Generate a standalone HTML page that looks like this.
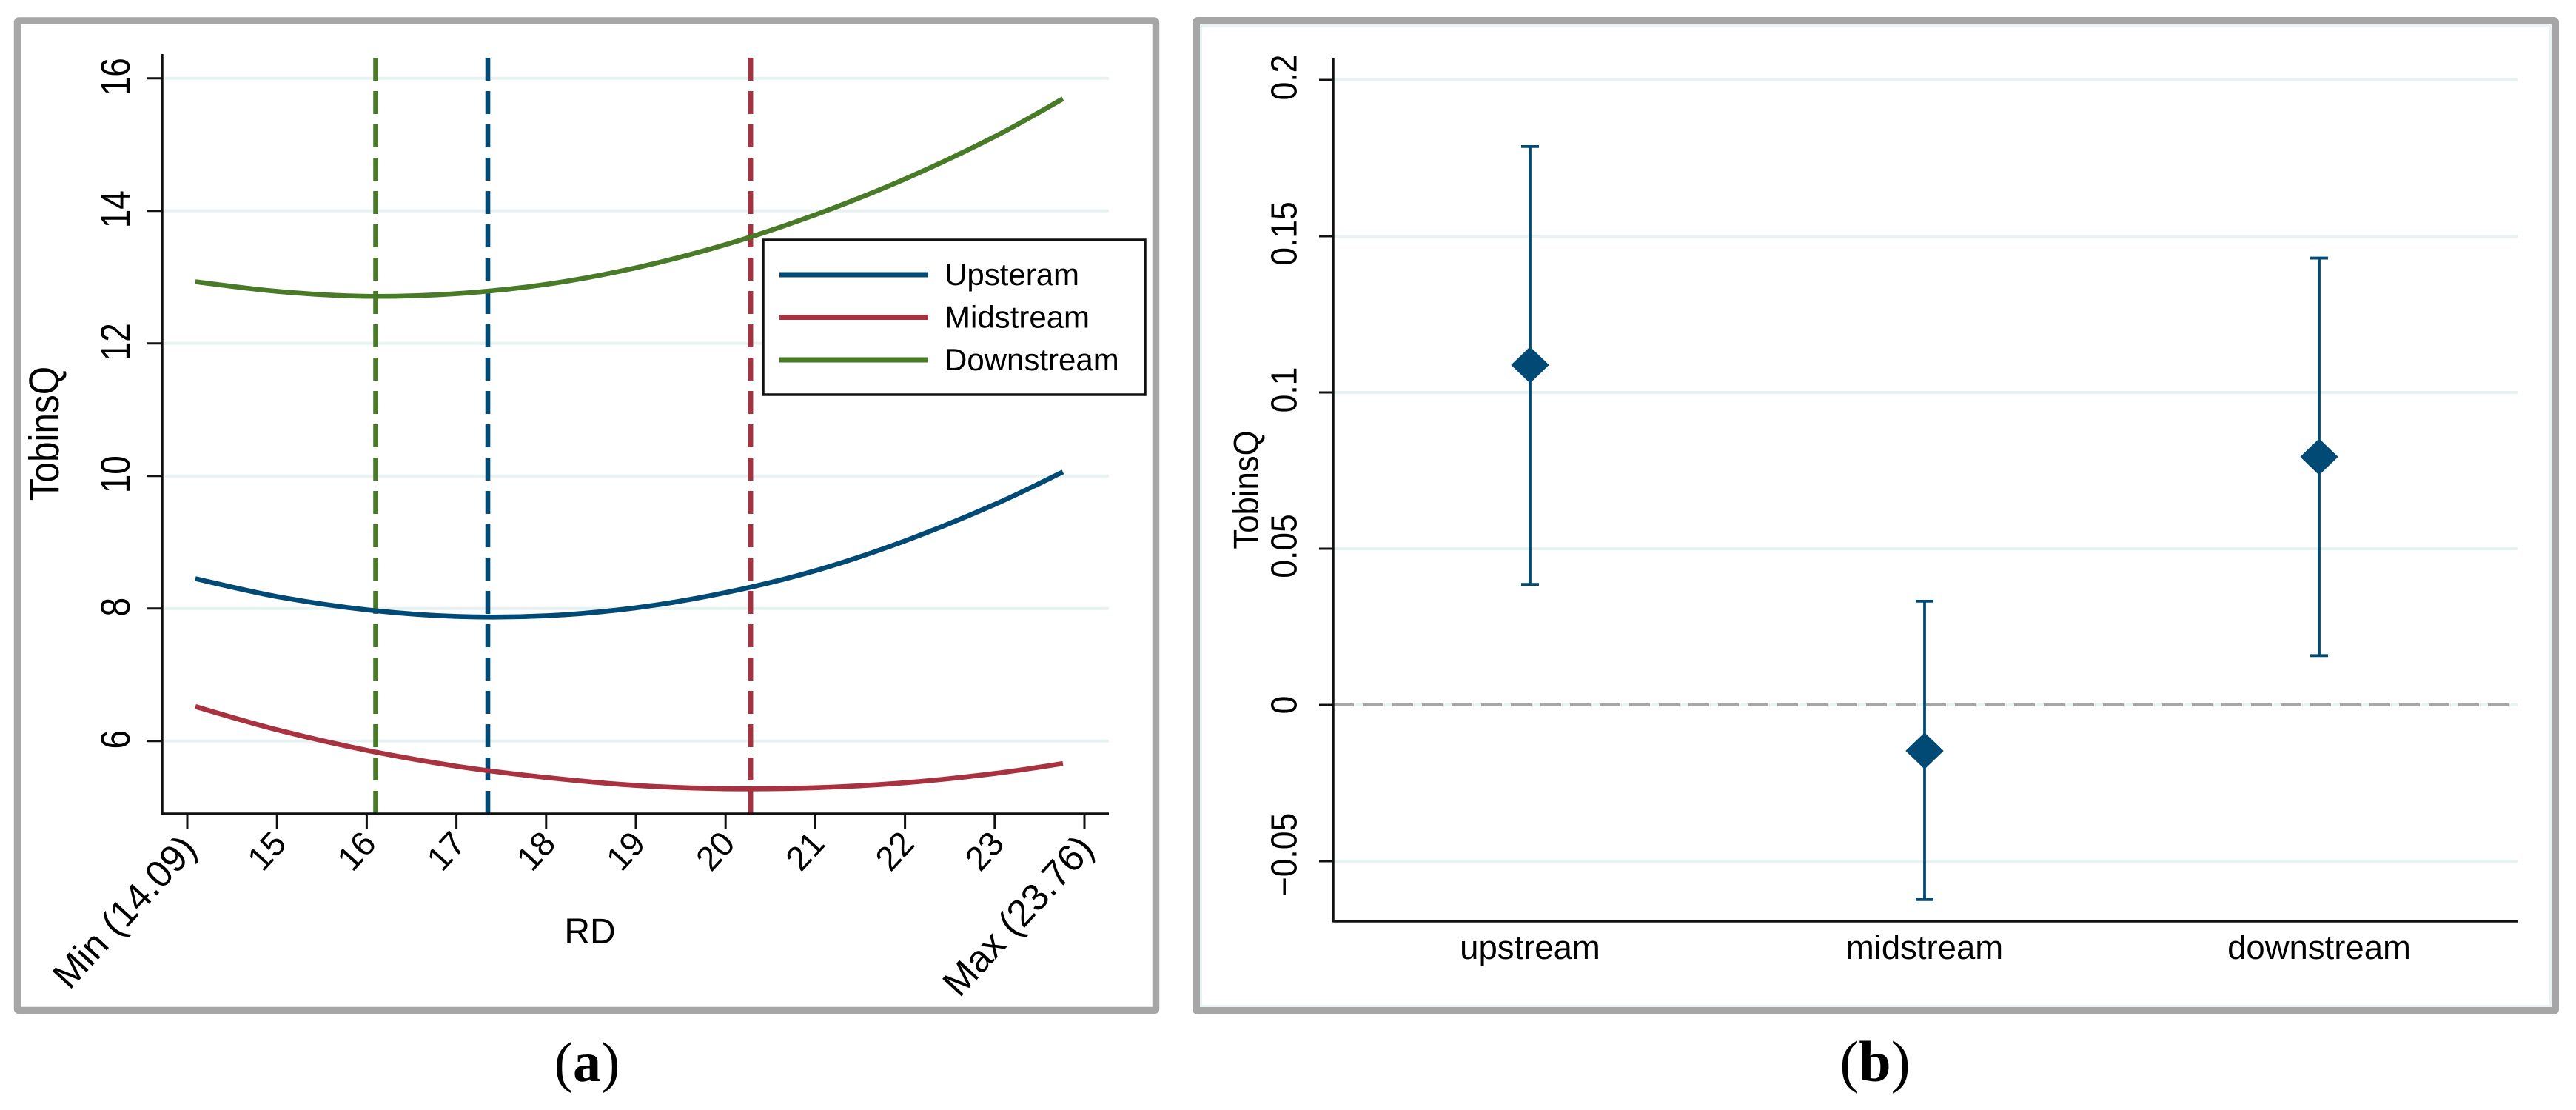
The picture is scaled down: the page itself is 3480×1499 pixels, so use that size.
<!DOCTYPE html>
<html lang="en">
<head>
<meta charset="utf-8">
<title>TobinsQ and RD by supply-chain position</title>
<style>
html,body{margin:0;padding:0;background:#fff;width:3480px;height:1499px;overflow:hidden}
svg{display:block}
text{font-family:"Liberation Sans",sans-serif;fill:#000}
.cap{font-family:"Liberation Serif",serif}
</style>
</head>
<body>
<svg id="fig" xmlns="http://www.w3.org/2000/svg" width="3480" height="1499" viewBox="0 0 3480 1499">
  <rect x="0" y="0" width="3480" height="1499" fill="#fff"/>
  <rect x="23.5" y="28" width="1538" height="1336.5" rx="2" fill="#fff" stroke="#a6a6a6" stroke-width="9.5"/>
  <rect x="1616" y="28" width="1836" height="1337" rx="2" fill="#fff" stroke="#a6a6a6" stroke-width="10"/>
  <rect x="1622.5" y="34.5" width="1823" height="1324" fill="none" stroke="#eaf3f4" stroke-width="3"/>
  <g id="panelA"></g>
  <g id="panelB"></g>
  <text class="cap" x="793" y="1460" font-size="76" text-anchor="middle">(<tspan font-weight="bold">a</tspan>)</text>
  <text class="cap" x="2533" y="1460" font-size="78" text-anchor="middle">(<tspan font-weight="bold">b</tspan>)</text>
</svg>
<script>
// Panel (a) data
const rdPositions = [14.09, 15, 16, 17, 18, 19, 20, 21, 22, 23, 23.76];
const upstreamValues = [8.45, 8.18, 7.98, 7.88, 7.89, 8.01, 8.24, 8.57, 9.02, 9.57, 10.06];
const midstreamValues = [6.52, 6.17, 5.86, 5.62, 5.45, 5.33, 5.28, 5.295, 5.37, 5.51, 5.66];
const downstreamValues = [12.93, 12.785, 12.71, 12.75, 12.89, 13.14, 13.49, 13.94, 14.48, 15.12, 15.69];
const turningPoints = [17.35, 20.28, 16.1];
const seriesNames = ['Upsteram', 'Midstream', 'Downstream'];
const yTicksA = [6, 8, 10, 12, 14, 16];
const xTickValuesA = [14, 15, 16, 17, 18, 19, 20, 21, 22, 23, 24];
const xTickLabelsA = ['Min (14.09)', '15', '16', '17', '18', '19', '20', '21', '22', '23', 'Max (23.76)'];

// Panel (b) data
const categoriesB = ['upstream', 'midstream', 'downstream'];
const coefValues = [0.1088, -0.0147, 0.0794];
const ciUpper = [0.1787, 0.0332, 0.143];
const ciLower = [0.0386, -0.0623, 0.0158];
const yTicksB = [-0.05, 0, 0.05, 0.1, 0.15, 0.2];
const yTickLabelsB = ['\u22120.05', '0', '0.05', '0.1', '0.15', '0.2'];

const NS = 'http://www.w3.org/2000/svg';
const BLUE = '#014a75', RED = '#a83240', GREEN = '#487a28', GRID = '#e9f2f3', AXIS = '#111';
const seriesColors = [BLUE, RED, GREEN];

function node(parent, tag, attrs, txt) {
  const n = document.createElementNS(NS, tag);
  for (const k in attrs) n.setAttribute(k, attrs[k]);
  if (txt !== undefined) n.textContent = txt;
  parent.appendChild(n);
  return n;
}
function smoothPath(pts) {
  let d = 'M' + pts[0][0] + ' ' + pts[0][1];
  for (let i = 0; i < pts.length - 1; i++) {
    const p0 = pts[Math.max(i - 1, 0)], p1 = pts[i], p2 = pts[i + 1], p3 = pts[Math.min(i + 2, pts.length - 1)];
    const c1x = p1[0] + (p2[0] - p0[0]) / 6, c1y = p1[1] + (p2[1] - p0[1]) / 6;
    const c2x = p2[0] - (p3[0] - p1[0]) / 6, c2y = p2[1] - (p3[1] - p1[1]) / 6;
    d += ' C' + c1x + ' ' + c1y + ' ' + c2x + ' ' + c2y + ' ' + p2[0] + ' ' + p2[1];
  }
  return d;
}

// ---------- Panel (a) ----------
const gA = document.getElementById('panelA');
const xA = v => 253 + (v - 14) * 121.2;
const yA = v => 105.7 + (16 - v) * 89.5;
const axisA = { left: 219, right: 1498, top: 73, bottom: 1099 };
let el;

yTicksA.forEach(t => {
  el = node(gA, 'line', { x1: axisA.left, x2: axisA.right, y1: yA(t), y2: yA(t), stroke: GRID, 'stroke-width': 4 });
  
  
});

turningPoints.forEach((v, i) => {
  el = node(gA, 'line', { x1: xA(v), x2: xA(v), y1: 78, y2: axisA.bottom, stroke: seriesColors[i], 'stroke-width': 6.6, 'stroke-dasharray': '31 14' });
  
  
});

[upstreamValues, midstreamValues, downstreamValues].forEach((vals, i) => {
  const pts = vals.map((v, k) => [xA(rdPositions[k]), yA(v)]);
  el = node(gA, 'path', { d: smoothPath(pts), fill: 'none', stroke: seriesColors[i], 'stroke-width': 6.6 });
  
  
});

el = node(gA, 'line', { x1: axisA.left, x2: axisA.left, y1: axisA.top, y2: axisA.bottom + 1.5, stroke: AXIS, 'stroke-width': 3.5 });


el = node(gA, 'line', { x1: axisA.left, x2: axisA.right, y1: axisA.bottom, y2: axisA.bottom, stroke: AXIS, 'stroke-width': 3.5 });



yTicksA.forEach(t => {
  el = node(gA, 'line', { x1: 198, x2: axisA.left, y1: yA(t), y2: yA(t), stroke: AXIS, 'stroke-width': 3 });
  
  
  el = node(gA, 'text', { 'font-size': 46, 'text-anchor': 'middle', transform: 'translate(175,' + (yA(t) - 2) + ') rotate(-90) scale(1,1.2)' }, String(t));
  
  
});

xTickValuesA.forEach((t, i) => {
  el = node(gA, 'line', { x1: xA(t), x2: xA(t), y1: axisA.bottom, y2: 1120, stroke: AXIS, 'stroke-width': 3 });
  
  
  const isLong = xTickLabelsA[i].length > 2;
  el = node(gA, 'text', { 'font-size': isLong ? 51 : 46, 'text-anchor': 'end', transform: 'translate(' + (xA(t) + 15) + ',' + (isLong ? 1148 : 1141) + ') rotate(-47.5)' }, xTickLabelsA[i]);
  
  
});

el = node(gA, 'text', { 'font-size': 49.5, 'text-anchor': 'middle', transform: 'translate(79,585.5) rotate(-90) scale(1,1.14)' }, 'TobinsQ');


el = node(gA, 'text', { 'font-size': 48, 'text-anchor': 'middle', x: 797, y: 1274 }, 'RD');



el = node(gA, 'rect', { x: 1031, y: 324, width: 516, height: 209, fill: '#fff', stroke: '#111', 'stroke-width': 3.5 });


seriesNames.forEach((name, i) => {
  const handleY = 371 + i * 57.5;
  const textY = 385 + i * 57.5;
  el = node(gA, 'line', { x1: 1053, x2: 1254, y1: handleY, y2: handleY, stroke: seriesColors[i], 'stroke-width': 7 });
  
  
  el = node(gA, 'text', { x: 1276, y: textY, 'font-size': 42 }, name);
  
  
});

// ---------- Panel (b) ----------
const gB = document.getElementById('panelB');
const xB = i => 2067 + i * 533;
const yB = v => 952 - v * 4220;
const axisB = { left: 1801, right: 3401, top: 79, bottom: 1244 };

yTicksB.forEach(t => {
  el = node(gB, 'line', { x1: axisB.left, x2: axisB.right, y1: yB(t), y2: yB(t), stroke: GRID, 'stroke-width': 4 });
  
  
});

el = node(gB, 'line', { x1: axisB.left, x2: axisB.right, y1: yB(0), y2: yB(0), stroke: '#a6a6a6', 'stroke-width': 4, 'stroke-dasharray': '28 12' });



categoriesB.forEach((cat, i) => {
  const cx = xB(i);
  el = node(gB, 'line', { x1: cx, x2: cx, y1: yB(ciUpper[i]), y2: yB(ciLower[i]), stroke: BLUE, 'stroke-width': 3.8 });
  
  
  el = node(gB, 'line', { x1: cx - 12, x2: cx + 12, y1: yB(ciUpper[i]), y2: yB(ciUpper[i]), stroke: BLUE, 'stroke-width': 3.8 });
  
  
  el = node(gB, 'line', { x1: cx - 12, x2: cx + 12, y1: yB(ciLower[i]), y2: yB(ciLower[i]), stroke: BLUE, 'stroke-width': 3.8 });
  
  
  const py = yB(coefValues[i]);
  el = node(gB, 'polygon', { points: [cx, py - 24, cx + 25, py, cx, py + 24, cx - 25, py].join(' '), fill: BLUE, stroke: BLUE, 'stroke-width': 1, 'stroke-linejoin': 'round' });
  
  
  el = node(gB, 'text', { x: cx, y: 1295, 'font-size': 45.5, 'text-anchor': 'middle' }, cat);
  
  
});

el = node(gB, 'line', { x1: axisB.left, x2: axisB.left, y1: axisB.top, y2: axisB.bottom + 1.5, stroke: AXIS, 'stroke-width': 3.5 });


el = node(gB, 'line', { x1: axisB.left, x2: axisB.right, y1: axisB.bottom, y2: axisB.bottom, stroke: AXIS, 'stroke-width': 3.5 });



yTicksB.forEach((t, i) => {
  el = node(gB, 'line', { x1: 1782, x2: axisB.left, y1: yB(t), y2: yB(t), stroke: AXIS, 'stroke-width': 3 });
  
  
  const off = t < 0 ? -9 : (t === 0 ? 0 : -3.5);
  el = node(gB, 'text', { 'font-size': 44.5, 'text-anchor': 'middle', transform: 'translate(1751.5,' + (yB(t) + off) + ') rotate(-90) scale(1,1.1)' }, yTickLabelsB[i]);
  
  
});

el = node(gB, 'text', { 'font-size': 43.7, 'text-anchor': 'middle', transform: 'translate(1699.5,661.5) rotate(-90) scale(1,1.08)' }, 'TobinsQ');


</script>
</body>
</html>
